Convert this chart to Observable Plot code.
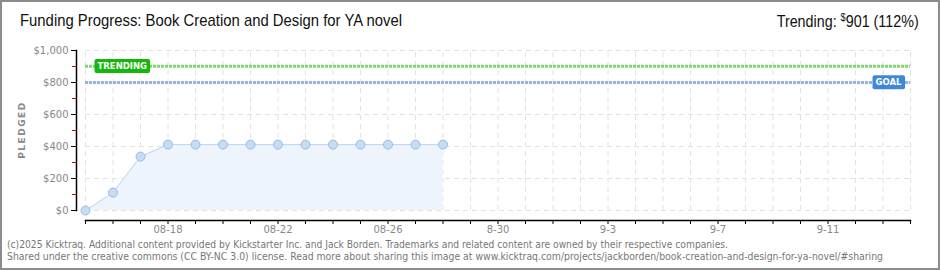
<!DOCTYPE html>
<html><head><meta charset="utf-8">
<script src="https://cdn.jsdelivr.net/npm/d3@7"></script>
<script src="https://cdn.jsdelivr.net/npm/@observablehq/plot@0.6"></script>
<style>
body{margin:0;background:#fff;}
#wrap{position:relative;width:940px;height:270px;overflow:hidden;background:#fff;}
#frame{position:absolute;left:0;top:0;width:940px;height:270px;box-sizing:border-box;border:2px solid #8c8c8c;pointer-events:none;}
#title{position:absolute;left:20px;top:11px;font:17px "Liberation Sans Narrow",sans-serif;color:#111;white-space:nowrap;transform-origin:0 0;}
#trend{position:absolute;right:21px;top:11px;font:17px "Liberation Sans Narrow",sans-serif;color:#111;white-space:nowrap;transform-origin:100% 0;}
#trend sup{font-size:11px;vertical-align:6px;}
#chart{position:absolute;left:0;top:40px;}
#ylabel{position:absolute;left:22px;top:130px;font:bold 9px "DejaVu Sans",sans-serif;color:#888;letter-spacing:1.5px;transform:translate(-50%,-50%) rotate(-90deg);white-space:nowrap;}
.foot{position:absolute;left:7px;font:10.5px "DejaVu Sans",sans-serif;color:#777;white-space:nowrap;transform-origin:0 0;}
</style></head>
<body>
<div id="wrap">
  <div id="title"></div>
  <div id="trend"></div>
  <div id="ylabel">PLEDGED</div>
  <div id="chart"></div>
  <div class="foot" id="foot1" style="top:238px"></div>
  <div class="foot" id="foot2" style="top:249.5px"></div>
  <div id="frame"></div>
</div>
<script>
const titleText = "Funding Progress: Book Creation and Design for YA novel";
const trendPrefix = "Trending: ";
const trendAmount = "901";
const trendPct = " (112%)";
const footer1 = "(c)2025 Kicktraq. Additional content provided by Kickstarter Inc. and Jack Borden. Trademarks and related content are owned by their respective companies.";
const footer2 = "Shared under the creative commons (CC BY-NC 3.0) license. Read more about sharing this image at www.kicktraq.com/projects/jackborden/book-creation-and-design-for-ya-novel/#sharing";

const dates = ["2025-08-15","2025-08-16","2025-08-17","2025-08-18","2025-08-19","2025-08-20","2025-08-21","2025-08-22","2025-08-23","2025-08-24","2025-08-25","2025-08-26","2025-08-27","2025-08-28"];
const pledged = [0,112,337,412,412,412,412,412,412,412,412,412,412,412];
const goal = 800;
const trending = 901;
const domainStart = "2025-08-15";
const domainEnd = "2025-09-14";
const yTicks = [0,200,400,600,800,1000];
const yTickLabels = ["$0","$200","$400","$600","$800","$1,000"];
const yMinorTicks = [100,300,500,700,900];
const xLabelDates = ["2025-08-18","2025-08-22","2025-08-26","2025-08-30","2025-09-03","2025-09-07","2025-09-11"];
const xLabels = ["08-18","08-22","08-26","8-30","9-3","9-7","9-11"];

document.getElementById("title").textContent = titleText;
document.getElementById("trend").innerHTML = trendPrefix + "<sup>$</sup>" + trendAmount + trendPct;
document.getElementById("foot1").textContent = footer1;
document.getElementById("foot2").textContent = footer2;

const data = dates.map((d,i)=>({date:new Date(d), value:pledged[i]}));
const x0 = new Date(domainStart), x1 = new Date(domainEnd);
const dayTicks = d3.utcDay.range(x0, d3.utcDay.offset(x1,1));
const yLabelMap = new Map(yTicks.map((t,i)=>[t,yTickLabels[i]]));
const xLabelMap = new Map(xLabelDates.map((d,i)=>[+new Date(d), xLabels[i]]));
const trendBadge = [{date:x0, value:trending, label:"TRENDING"}];
const goalBadge = [{date:x1, value:goal, label:"GOAL"}];

const chart = Plot.plot({
  width:940, height:196,
  marginTop:10, marginBottom:16, marginLeft:76, marginRight:30,
  x:{type:"utc", domain:[x0,x1], insetLeft:9},
  y:{domain:[0,1000], insetBottom:10},
  style:{fontFamily:"'DejaVu Sans',sans-serif", fontSize:"10px", color:"#888", background:"transparent", overflow:"visible"},
  marks:[
    Plot.ruleX(dayTicks, {y1:0, y2:1000, stroke:"#e2e2e2", strokeDasharray:"5,4"}),
    Plot.ruleY(yTicks, {x1:x0, x2:x1, stroke:"#e2e2e2", strokeDasharray:"5,4"}),
    Plot.areaY(data, {x:"date", y:"value", fill:"#edf4fc"}),
    Plot.lineY(data, {x:"date", y:"value", stroke:"#bcd5f2", strokeWidth:1}),
    Plot.ruleY([trending], {x1:x0, x2:x1, stroke:"#7fd672", strokeWidth:3, strokeDasharray:"3,1"}),
    Plot.ruleY([goal], {x1:x0, x2:x1, stroke:"#94b4de", strokeWidth:3, strokeDasharray:"3,1"}),
    Plot.dot(data, {x:"date", y:"value", r:4.5, fill:"#c6dcf5", stroke:"#9ab9e0", strokeWidth:1}),
    Plot.text(trendBadge, {x:"date", y:"value", text:"label", textAnchor:"start", dx:12, fill:"#fff", fontWeight:"bold", fontSize:8.5, className:"badge-trend"}),
    Plot.text(goalBadge, {x:"date", y:"value", text:"label", textAnchor:"end", dx:-9, fill:"#fff", fontWeight:"bold", fontSize:8.5, className:"badge-goal"}),
    Plot.axisY(yMinorTicks, {tickSize:4, stroke:"#e00000", tickFormat:()=>"", label:null}),
    Plot.axisY(yTicks, {tickSize:5, tickPadding:3, stroke:"#000", fill:"#888", tickFormat:d=>yLabelMap.get(d), label:null}),
    Plot.axisX(dayTicks, {tickSize:4, stroke:"#000", tickFormat:()=>"", label:null}),
    Plot.axisX(xLabelDates.map(d=>new Date(d)), {tickSize:0, tickPadding:5, fill:"#888", tickFormat:d=>xLabelMap.get(+d), label:null}),
    Plot.frame({anchor:"left", insetBottom:10, stroke:"#000", strokeWidth:1.5}),
    Plot.frame({anchor:"bottom", insetLeft:9, stroke:"#000", strokeWidth:1.5})
  ]
});
document.getElementById("chart").appendChild(chart);

// badge backgrounds, drawn behind each badge text in the same coordinate frame
[["badge-trend","#14b80a"],["badge-goal","#3f88d8"]].forEach(([cls,color])=>{
  chart.querySelectorAll("g."+cls+" text").forEach(t=>{
    const b = t.getBBox();
    const r = document.createElementNS("http://www.w3.org/2000/svg","rect");
    r.setAttribute("x", b.x-3); r.setAttribute("y", b.y-2);
    r.setAttribute("width", b.width+6); r.setAttribute("height", b.height+4);
    r.setAttribute("rx", 2); r.setAttribute("fill", color);
    if (t.getAttribute("transform")) r.setAttribute("transform", t.getAttribute("transform"));
    t.parentNode.insertBefore(r, t);
  });
});

// fit text widths to the reference
function fit(id, w){const el=document.getElementById(id);const r=el.getBoundingClientRect().width;el.style.transform=`scaleX(${w/r})`;}
fit("title", 382); fit("trend", 142); fit("foot1", 721); fit("foot2", 876);
</script>
</body></html>
